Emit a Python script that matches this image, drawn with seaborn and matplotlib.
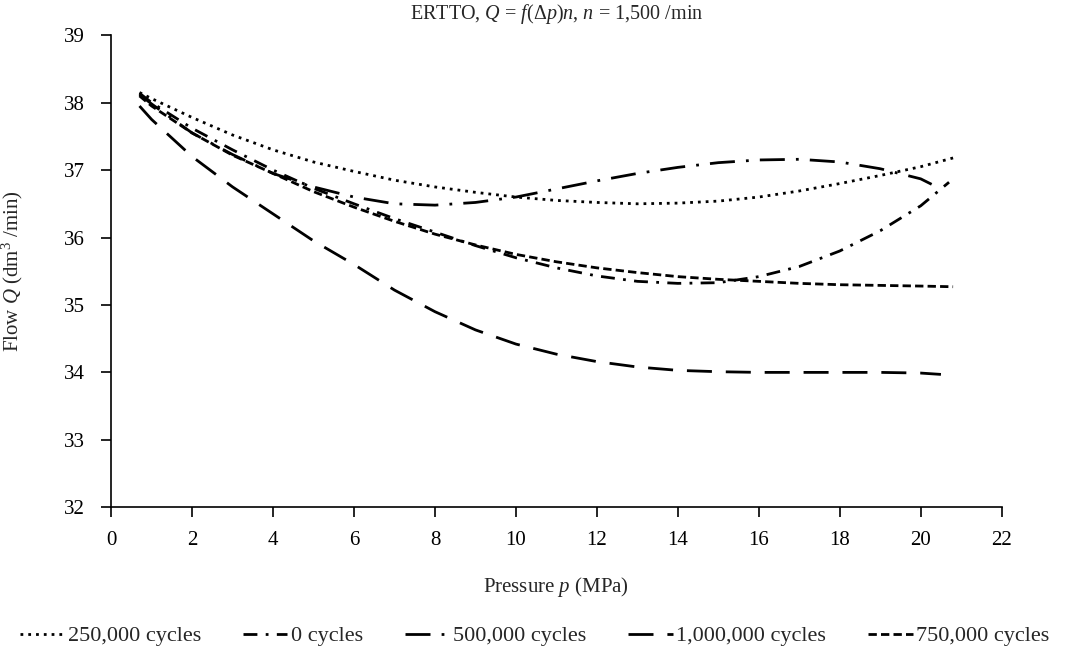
import numpy as np
import pandas as pd
import seaborn as sns
import matplotlib.pyplot as plt

# values
pressure = [0.7, 1, 2, 3, 4, 5, 6, 7, 8, 9, 10, 11, 12, 13, 14, 15, 16, 17, 18, 19, 20, 20.8]
pressure_0 = pressure[:-1] + [20.7]
pressure_short = pressure[:-1] + [20.5]

flow_250k = [38.15, 38.06, 37.78, 37.52, 37.30, 37.12, 36.98, 36.85, 36.75, 36.67, 36.60,
             36.55, 36.52, 36.50, 36.51, 36.54, 36.60, 36.69, 36.80, 36.92, 37.05, 37.18]
flow_0 = [38.14, 38.00, 37.62, 37.30, 37.00, 36.73, 36.50, 36.28, 36.08, 35.88, 35.70,
          35.55, 35.43, 35.35, 35.32, 35.33, 35.42, 35.57, 35.80, 36.10, 36.47, 36.82]
flow_500k = [38.12, 37.98, 37.55, 37.23, 36.95, 36.75, 36.60, 36.50, 36.48, 36.52, 36.60,
             36.72, 36.84, 36.95, 37.04, 37.11, 37.15, 37.16, 37.12, 37.02, 36.87, 36.72]
flow_1m = [37.95, 37.75, 37.20, 36.75, 36.35, 35.95, 35.60, 35.22, 34.90, 34.63, 34.42,
           34.27, 34.16, 34.08, 34.03, 34.01, 34.00, 34.00, 34.00, 34.00, 33.99, 33.97]
flow_750k = [38.10, 37.95, 37.55, 37.22, 36.95, 36.68, 36.45, 36.24, 36.05, 35.89, 35.75,
             35.64, 35.55, 35.48, 35.42, 35.38, 35.35, 35.32, 35.30, 35.29, 35.28, 35.27]

series = [
    ("250,000 cycles", pressure, flow_250k, (0, (1, 1.8))),
    ("0 cycles", pressure_0, flow_0, (0, (5, 3, 1, 3))),
    ("500,000 cycles", pressure_short, flow_500k, (0, (9, 4, 1, 4))),
    ("1,000,000 cycles", pressure_short, flow_1m, (0, (9, 5))),
    ("750,000 cycles", pressure, flow_750k, (0, (3, 1.5))),
]

sns.set_style("ticks")
plt.rcParams['font.family'] = ['Liberation Serif', 'DejaVu Serif']
plt.rcParams['mathtext.fontset'] = 'custom'
plt.rcParams['mathtext.rm'] = 'Liberation Serif'
plt.rcParams['mathtext.it'] = 'Liberation Serif:italic'

fig = plt.figure(figsize=(10.69, 6.52), dpi=100)
ax = fig.add_axes([0.104, 0.222, 0.833, 0.724])

for name, x, y, ls in series:
    df = pd.DataFrame({"p": x, "q": y})
    sns.lineplot(data=df, x="p", y="q", ax=ax, color="black", linewidth=2.0,
                 linestyle=ls, label=name)

ax.set_xlim(0, 22)
ax.set_ylim(32, 39)
ax.set_xticks(range(0, 23, 2))
ax.set_yticks(range(32, 40))
ax.tick_params(labelsize=15, direction="out", length=7, width=1.2, colors="black")
ax.tick_params(axis="x", pad=10)
ax.tick_params(axis="y", pad=12)
for s in ["top", "right"]:
    ax.spines[s].set_visible(False)
for s in ["left", "bottom"]:
    ax.spines[s].set_linewidth(1.2)
    ax.spines[s].set_color("black")

ax.set_title(r"ERTTO, $Q$ = $f$(Δ$p$)$n$, $n$ = 1,500 /min", fontsize=14.5, pad=12)
ax.set_xlabel(r"Pressure $p$ (MPa)", fontsize=15, labelpad=18)
ax.set_ylabel(r"Flow $Q$ (dm$^3$ /min)", fontsize=15, labelpad=28)

ax.legend(loc="center", bbox_to_anchor=(0.5, 0.0245), bbox_transform=fig.transFigure,
          ncol=5, frameon=False, fontsize=16, handlelength=2.0, handletextpad=0.15,
          columnspacing=1.9, borderaxespad=0.0, borderpad=0.0)

fig.savefig("out.png", dpi=100)
